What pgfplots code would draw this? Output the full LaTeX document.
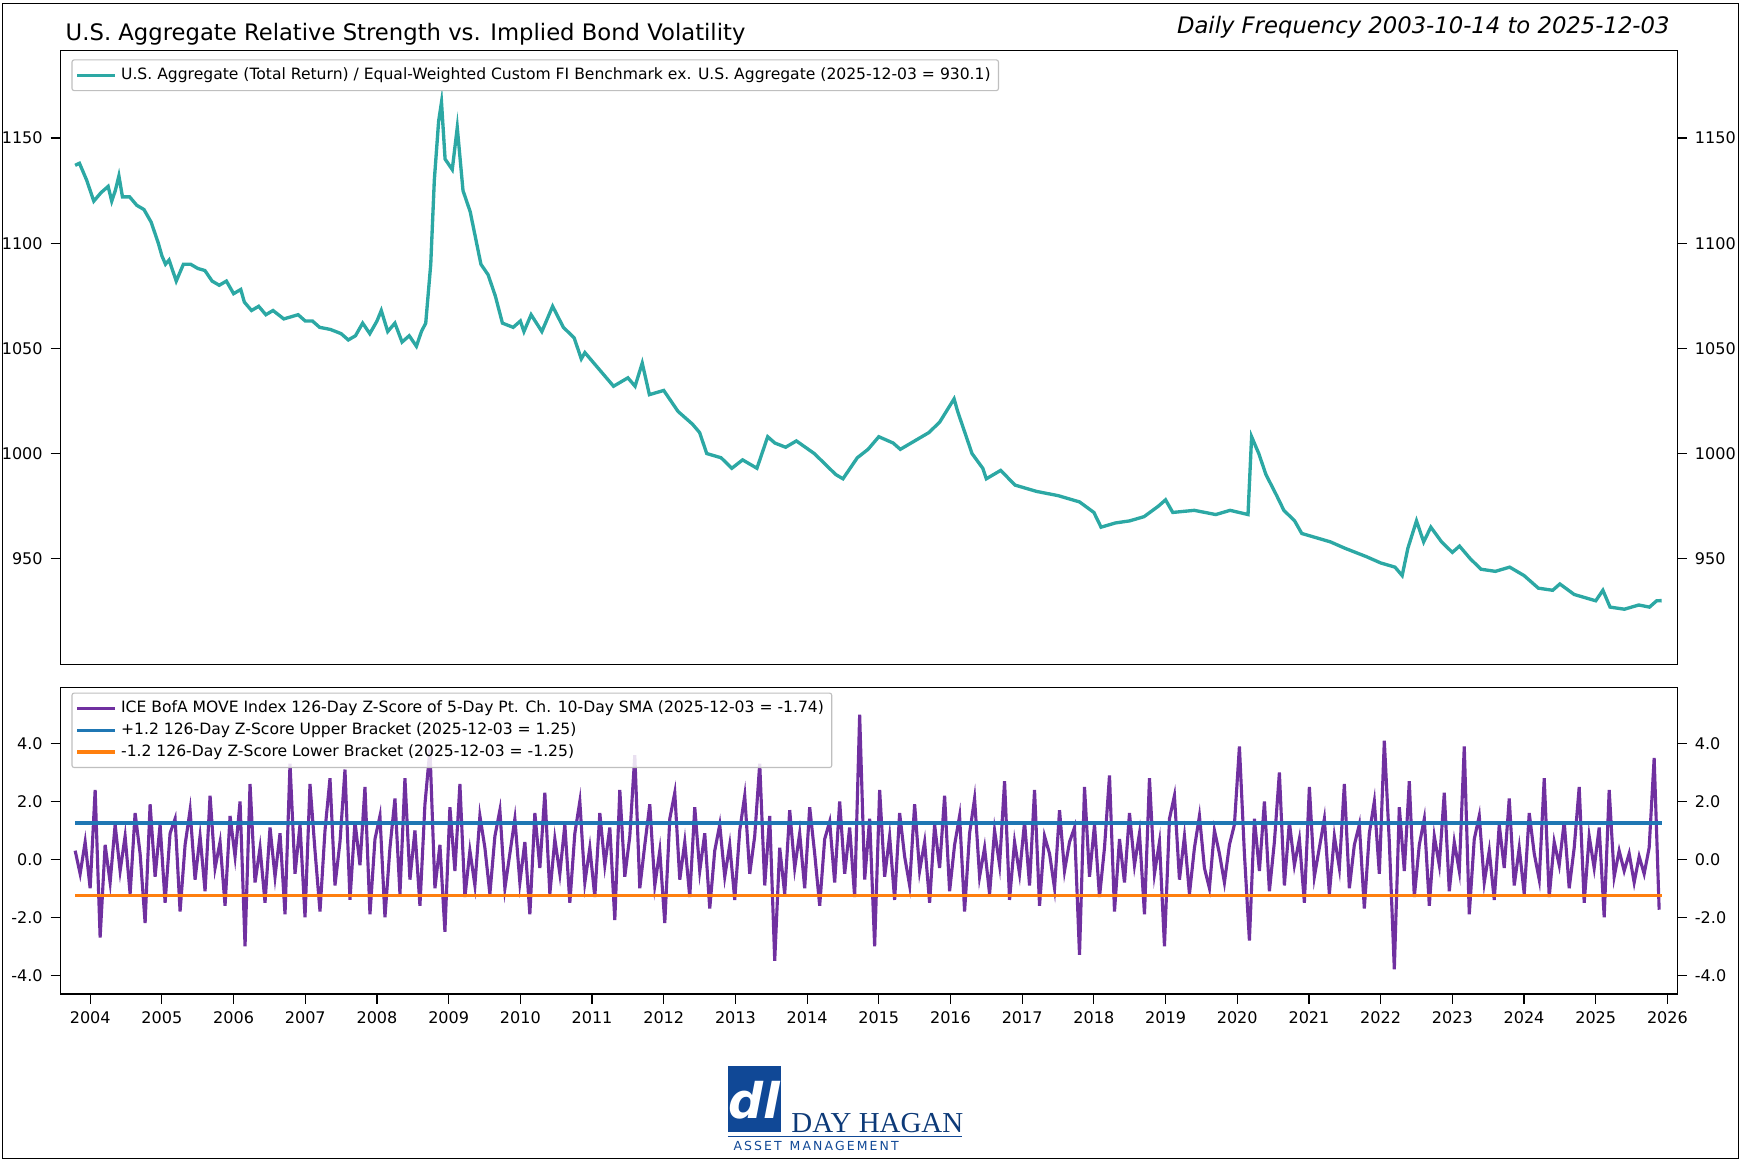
\documentclass[border=0pt]{standalone}
\usepackage{pgfplots}
\pgfplotsset{compat=1.18}
\usepackage{fontspec}
\setmainfont{DejaVu Sans}
\definecolor{teal1}{RGB}{44,168,164}
\definecolor{purp}{RGB}{112,48,160}
\definecolor{tblue}{RGB}{31,119,180}
\definecolor{torange}{RGB}{255,127,14}
\definecolor{dhblue}{RGB}{16,72,150}
\begin{document}
\begin{tikzpicture}
\useasboundingbox (0,0) rectangle (782.5pt,-522.5pt);
\begin{scope}[x=0.5pt,y=0.5pt]
\draw[line width=0.6pt] (2,-3) rectangle (1562,-1041);
\node[anchor=base west, font=\fontsize{10.2}{12}\selectfont] at (52,-36) {U.S. Aggregate Relative Strength vs. Implied Bond Volatility};
\node[anchor=base east, font=\fontsize{10.2}{12}\selectfont\itshape] at (1507,-30) {Daily Frequency 2003-10-14 to 2025-12-03};
\fill[dhblue] (654,-958) rectangle (702,-1017);
\node[white, font=\fontsize{22}{22}\selectfont\itshape\bfseries] at (678,-988) {dl};
\node[anchor=base west, dhblue!80!black, font=\fontsize{13}{13}\selectfont] at (704,-1017) {\fontspec{Liberation Serif}DAY HAGAN};
\draw[dhblue, line width=0.6pt] (654,-1021) -- (864,-1021);
\node[anchor=base west, dhblue, font=\fontsize{5.6}{6}\selectfont] at (652,-1034) {A\,S\,S\,E\,T\ \ M\,A\,N\,A\,G\,E\,M\,E\,N\,T};
\end{scope}
\pgfplotsset{every axis/.append style={font=\fontsize{7.2}{8}\selectfont, tick align=outside, scale only axis, line width=0.5pt, /pgf/number format/assume math mode=true, tick style={black,line width=0.5pt}}}
% top
\begin{axis}[at={(27pt,-298.5pt)}, anchor=south west, width=726.5pt, height=276pt,
 xmin=2003.58, xmax=2026.14, ymin=899.7, ymax=1191.8, xtick=\empty,
 ytick={950,1000,1050,1100,1150}, yticklabel style={/pgf/number format/1000 sep={}},
 legend style={at={(0.007,0.985)},anchor=north west, font=\fontsize{7}{8}\selectfont, draw=black!25, rounded corners=1pt, inner sep=1.5pt}, legend cell align=left]
\addplot[teal1, line width=1.5pt] coordinates {
(2003.79,1137)(2003.85,1138)(2003.95,1130)(2004.0,1125)(2004.05,1120)(2004.15,1124)(2004.25,1127)(2004.3,1120)(2004.35,1125)(2004.4,1132)(2004.45,1122)(2004.55,1122)(2004.65,1118)(2004.75,1116)(2004.85,1110)(2004.95,1100)(2005.0,1094)(2005.05,1090)(2005.1,1092)(2005.15,1087)(2005.2,1082)(2005.3,1090)(2005.4,1090)(2005.5,1088)(2005.6,1087)(2005.7,1082)(2005.8,1080)(2005.9,1082)(2006.0,1076)(2006.1,1078)(2006.15,1072)(2006.25,1068)(2006.35,1070)(2006.45,1066)(2006.55,1068)(2006.7,1064)(2006.9,1066)(2007.0,1063)(2007.1,1063)(2007.2,1060)(2007.35,1059)(2007.5,1057)(2007.6,1054)(2007.7,1056)(2007.8,1062)(2007.9,1057)(2008.0,1063)(2008.06,1068)(2008.15,1058)(2008.25,1062)(2008.35,1053)(2008.45,1056)(2008.55,1051)(2008.62,1058)(2008.68,1062)(2008.75,1090)(2008.8,1130)(2008.86,1158)(2008.9,1167)(2008.95,1140)(2009.05,1135)(2009.12,1155)(2009.2,1125)(2009.3,1115)(2009.45,1090)(2009.55,1085)(2009.65,1075)(2009.75,1062)(2009.9,1060)(2010.0,1063)(2010.05,1058)(2010.15,1066)(2010.3,1058)(2010.45,1070)(2010.6,1060)(2010.75,1055)(2010.85,1045)(2010.9,1048)(2011.1,1040)(2011.3,1032)(2011.5,1036)(2011.6,1032)(2011.7,1043)(2011.8,1028)(2012.0,1030)(2012.1,1025)(2012.2,1020)(2012.4,1014)(2012.5,1010)(2012.6,1000)(2012.8,998)(2012.95,993)(2013.1,997)(2013.3,993)(2013.45,1008)(2013.55,1005)(2013.7,1003)(2013.85,1006)(2014.1,1000)(2014.4,990)(2014.5,988)(2014.7,998)(2014.85,1002)(2015.0,1008)(2015.2,1005)(2015.3,1002)(2015.5,1006)(2015.7,1010)(2015.85,1015)(2016.05,1026)(2016.1,1020)(2016.2,1010)(2016.3,1000)(2016.45,993)(2016.5,988)(2016.6,990)(2016.7,992)(2016.9,985)(2017.2,982)(2017.5,980)(2017.8,977)(2018.0,972)(2018.1,965)(2018.3,967)(2018.5,968)(2018.7,970)(2018.9,975)(2019.0,978)(2019.1,972)(2019.4,973)(2019.7,971)(2019.9,973)(2020.15,971)(2020.2,1008)(2020.3,1000)(2020.4,990)(2020.55,980)(2020.65,973)(2020.8,968)(2020.9,962)(2021.0,961)(2021.3,958)(2021.5,955)(2021.8,951)(2022.0,948)(2022.2,946)(2022.3,942)(2022.38,955)(2022.5,968)(2022.6,958)(2022.7,965)(2022.85,958)(2023.0,953)(2023.1,956)(2023.25,950)(2023.4,945)(2023.6,944)(2023.8,946)(2024.0,942)(2024.2,936)(2024.4,935)(2024.5,938)(2024.7,933)(2024.9,931)(2025.0,930)(2025.1,935)(2025.2,927)(2025.4,926)(2025.6,928)(2025.75,927)(2025.85,930)(2025.92,930.1)};
\addlegendentry{U.S. Aggregate (Total Return) / Equal-Weighted Custom FI Benchmark ex. U.S. Aggregate (2025-12-03 = 930.1)}
\end{axis}
\begin{axis}[at={(27pt,-298.5pt)}, anchor=south west, width=726.5pt, height=276pt,
 xmin=2003.58, xmax=2026.14, ymin=899.7, ymax=1191.8, axis x line=none, axis y line*=right, xtick=\empty,
 ytick={950,1000,1050,1100,1150}, yticklabel style={/pgf/number format/1000 sep={}}]
\end{axis}
% bottom
\begin{axis}[at={(27pt,-446.5pt)}, anchor=south west, width=726.5pt, height=137.5pt,
 xmin=2003.58, xmax=2026.14, ymin=-4.65, ymax=5.92,
 xtick={2004,2005,...,2026}, xtick pos=bottom, xticklabel style={/pgf/number format/1000 sep={}}, minor x tick num=3,
 ytick={-4,-2,0,2,4}, ytick pos=left, yticklabel style={/pgf/number format/.cd,fixed,fixed zerofill,precision=1},
 legend style={at={(0.007,0.985)},anchor=north west, font=\fontsize{7}{8}\selectfont, draw=black!25, rounded corners=1pt, inner sep=1.5pt, fill opacity=0.85, text opacity=1, row sep=-1pt}, legend cell align=left]
\addplot[purp, line width=1.4pt] table[x expr=2003.79+\coordindex*0.0697, y index=0] {
0.3
-0.5
0.6
-1.0
2.4
-2.7
0.5
-0.8
1.2
-0.4
0.8
-1.2
1.6
0.2
-2.2
1.9
-0.6
1.2
-1.5
0.9
1.4
-1.8
0.5
1.7
-0.7
0.8
-1.1
2.2
-0.3
0.6
-1.6
1.5
0.1
2.0
-3.0
2.6
-0.8
0.4
-1.5
1.1
-0.6
0.9
-1.9
3.3
-0.5
1.2
-2.0
2.6
0.3
-1.8
1.0
2.8
-0.9
0.6
3.1
-1.4
1.3
-0.2
2.5
-1.9
0.7
1.5
-2.0
0.4
2.1
-1.2
2.8
-0.7
1.0
-1.6
1.9
3.8
-1.0
0.5
-2.5
1.8
-0.4
2.6
-1.3
0.3
-0.9
1.5
0.4
-1.2
0.8
1.7
-1.0
0.2
1.4
-0.8
0.6
-1.9
1.6
-0.3
2.3
-1.2
0.7
-0.5
1.2
-1.5
0.9
2.0
-0.8
0.4
-1.3
1.6
-0.2
1.1
-2.1
2.4
-0.6
0.8
3.6
-1.0
0.5
1.9
-0.9
0.3
-2.2
1.4
2.3
-0.7
0.6
-1.3
1.8
-0.4
0.9
-1.7
0.3
1.2
-0.6
0.5
-1.4
1.0
2.2
-0.5
0.8
3.3
-0.9
1.5
-3.5
0.4
-1.2
1.7
-0.3
0.9
-1.0
1.8
0.2
-1.6
0.7
1.3
-0.8
2.0
-0.5
1.1
-1.3
5.0
-0.7
1.4
-3.0
2.4
-0.6
0.8
-1.4
1.6
0.1
-0.9
1.9
-0.4
0.6
-1.5
1.2
-0.3
2.2
-1.1
0.5
1.5
-1.8
0.9
2.1
-0.6
0.4
-1.2
1.0
-0.2
2.7
-1.4
0.6
-0.5
1.3
-0.9
2.4
-1.6
0.8
0.2
-1.0
1.7
-0.4
0.6
1.1
-3.3
2.5
-0.6
1.2
-1.3
0.4
2.9
-1.8
0.7
-0.8
1.6
-0.2
0.9
-1.9
2.8
-0.5
0.6
-3.0
1.4
2.2
-0.7
0.8
-1.2
0.4
1.5
-0.3
-1.0
1.0
0.2
-0.8
0.5
1.2
3.9
0.2
-2.8
1.4
-0.4
2.0
-1.1
0.6
3.0
-0.9
1.3
-0.2
0.7
-1.5
2.5
-0.6
0.4
1.4
-1.2
0.8
-0.3
2.6
-1.0
0.5
1.2
-1.7
0.9
2.0
-0.5
4.1
0.6
-3.8
1.8
-0.4
2.7
-1.3
0.5
1.4
-1.6
0.8
-0.2
2.3
-1.1
0.6
-0.4
3.9
-1.9
0.7
1.5
-0.8
0.3
-1.4
1.2
-0.3
2.1
-0.9
0.4
-1.2
1.6
0.2
-0.7
2.8
-1.3
0.6
-0.2
1.3
-1.0
0.4
2.5
-1.5
0.8
-0.3
1.1
-2.0
2.4
-0.6
0.3
-0.4
0.2
-0.8
0.1
-0.5
0.4
3.5
-1.74
};
\addlegendentry{ICE BofA MOVE Index 126-Day Z-Score of 5-Day Pt. Ch. 10-Day SMA (2025-12-03 = -1.74)}
\addplot[tblue, line width=1.5pt] coordinates {(2003.79,1.25)(2025.92,1.25)};
\addlegendentry{+1.2 126-Day Z-Score Upper Bracket (2025-12-03 = 1.25)}
\addplot[torange, line width=1.5pt] coordinates {(2003.79,-1.25)(2025.92,-1.25)};
\addlegendentry{-1.2 126-Day Z-Score Lower Bracket (2025-12-03 = -1.25)}
\end{axis}
\begin{axis}[at={(27pt,-446.5pt)}, anchor=south west, width=726.5pt, height=137.5pt,
 xmin=2003.58, xmax=2026.14, ymin=-4.65, ymax=5.92, axis x line=none, axis y line*=right, xtick=\empty,
 ytick={-4,-2,0,2,4}, yticklabel style={/pgf/number format/.cd,fixed,fixed zerofill,precision=1}]
\end{axis}
\end{tikzpicture}
\end{document}
